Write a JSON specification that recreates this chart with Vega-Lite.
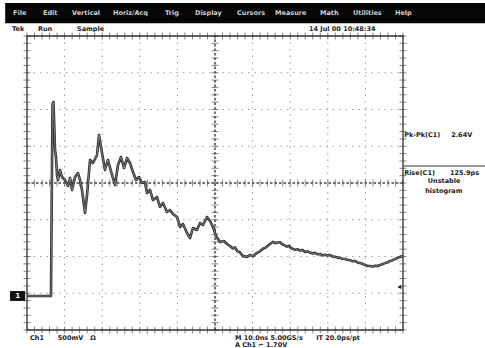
{
  "$schema": "https://vega.github.io/schema/vega-lite/v6.json",
  "width": 376,
  "height": 294,
  "autosize": {"type": "none"},
  "padding": {"left": 27, "top": 36, "right": 82, "bottom": 18},
  "background": "white",
  "config": {"view": {"stroke": null}, "text": {"font": "DejaVu Sans"}},
  "datasets": {
    "menu": [
      {"x": -0.372, "label": "File"}, {"x": 0.426, "label": "Edit"}, {"x": 1.197, "label": "Vertical"},
      {"x": 2.287, "label": "Horiz/Acq"}, {"x": 3.67, "label": "Trig"}, {"x": 4.468, "label": "Display"},
      {"x": 5.585, "label": "Cursors"}, {"x": 6.596, "label": "Measure"}, {"x": 7.793, "label": "Math"},
      {"x": 8.67, "label": "Utilities"}, {"x": 9.787, "label": "Help"}
    ],
    "labels": [
      {"x": -0.4, "y": 4.19, "label": "Tek"}, {"x": 0.29, "y": 4.19, "label": "Run"},
      {"x": 1.33, "y": 4.19, "label": "Sample"}, {"x": 7.5, "y": 4.19, "label": "14 Jul 00 10:48:34"},
      {"x": 0.08, "y": -4.22, "label": "Ch1"}, {"x": 0.82, "y": -4.22, "label": "500mV"},
      {"x": 1.68, "y": -4.22, "label": "Ω"}, {"x": 5.53, "y": -4.22, "label": "M 10.0ns 5.00GS/s"},
      {"x": 7.69, "y": -4.22, "label": "IT 20.0ps/pt"}, {"x": 5.53, "y": -4.41, "label": "A  Ch1 ⌐ 1.70V"},
      {"x": 10.03, "y": 1.31, "label": "Pk-Pk(C1)"}, {"x": 11.28, "y": 1.31, "label": "2.64V"},
      {"x": 10.03, "y": 0.27, "label": "Rise(C1)"}, {"x": 11.25, "y": 0.27, "label": "125.9ps"},
      {"x": 10.66, "y": 0.05, "label": "Unstable"}, {"x": 10.59, "y": -0.22, "label": "histogram"}
    ],
    "gx": [{"x": 1}, {"x": 2}, {"x": 3}, {"x": 4}, {"x": 6}, {"x": 7}, {"x": 8}, {"x": 9}],
    "gy": [{"y": -3}, {"y": -2}, {"y": -1}, {"y": 1}, {"y": 2}, {"y": 3}],
    "xt": [
      {"x": 0}, {"x": 0.2}, {"x": 0.4}, {"x": 0.6}, {"x": 0.8}, {"x": 1}, {"x": 1.2}, {"x": 1.4}, {"x": 1.6}, {"x": 1.8},
      {"x": 2}, {"x": 2.2}, {"x": 2.4}, {"x": 2.6}, {"x": 2.8}, {"x": 3}, {"x": 3.2}, {"x": 3.4}, {"x": 3.6}, {"x": 3.8},
      {"x": 4}, {"x": 4.2}, {"x": 4.4}, {"x": 4.6}, {"x": 4.8}, {"x": 5}, {"x": 5.2}, {"x": 5.4}, {"x": 5.6}, {"x": 5.8},
      {"x": 6}, {"x": 6.2}, {"x": 6.4}, {"x": 6.6}, {"x": 6.8}, {"x": 7}, {"x": 7.2}, {"x": 7.4}, {"x": 7.6}, {"x": 7.8},
      {"x": 8}, {"x": 8.2}, {"x": 8.4}, {"x": 8.6}, {"x": 8.8}, {"x": 9}, {"x": 9.2}, {"x": 9.4}, {"x": 9.6}, {"x": 9.8}, {"x": 10}
    ],
    "yt": [
      {"y": -4}, {"y": -3.8}, {"y": -3.6}, {"y": -3.4}, {"y": -3.2}, {"y": -3}, {"y": -2.8}, {"y": -2.6}, {"y": -2.4}, {"y": -2.2},
      {"y": -2}, {"y": -1.8}, {"y": -1.6}, {"y": -1.4}, {"y": -1.2}, {"y": -1}, {"y": -0.8}, {"y": -0.6}, {"y": -0.4}, {"y": -0.2},
      {"y": 0}, {"y": 0.2}, {"y": 0.4}, {"y": 0.6}, {"y": 0.8}, {"y": 1}, {"y": 1.2}, {"y": 1.4}, {"y": 1.6}, {"y": 1.8},
      {"y": 2}, {"y": 2.2}, {"y": 2.4}, {"y": 2.6}, {"y": 2.8}, {"y": 3}, {"y": 3.2}, {"y": 3.4}, {"y": 3.6}, {"y": 3.8}, {"y": 4}
    ],
    "wave": [
      {"x": 0, "y": -3.075}, {"x": 0.612, "y": -3.075}, {"x": 0.638, "y": -3.075}, {"x": 0.678, "y": 2.15},
      {"x": 0.705, "y": 2.204}, {"x": 0.745, "y": 0.898}, {"x": 0.771, "y": 0.707}, {"x": 0.798, "y": 0.218},
      {"x": 0.824, "y": 0.082}, {"x": 0.878, "y": 0.354}, {"x": 0.931, "y": 0.163}, {"x": 1.011, "y": 0.082},
      {"x": 1.09, "y": -0.082}, {"x": 1.144, "y": 0.136}, {"x": 1.197, "y": -0.19}, {"x": 1.277, "y": 0.163},
      {"x": 1.356, "y": 0.272}, {"x": 1.41, "y": 0.082}, {"x": 1.463, "y": -0.19}, {"x": 1.543, "y": -0.816},
      {"x": 1.596, "y": -0.327}, {"x": 1.676, "y": 0.626}, {"x": 1.755, "y": 0.544}, {"x": 1.862, "y": 0.762},
      {"x": 1.915, "y": 1.306}, {"x": 1.995, "y": 0.816}, {"x": 2.074, "y": 0.354}, {"x": 2.154, "y": 0.626},
      {"x": 2.261, "y": 0.218}, {"x": 2.34, "y": -0.054}, {"x": 2.42, "y": 0.49}, {"x": 2.5, "y": 0.707},
      {"x": 2.58, "y": 0.408}, {"x": 2.66, "y": 0.68}, {"x": 2.739, "y": 0.544}, {"x": 2.819, "y": 0.299},
      {"x": 2.899, "y": 0.082}, {"x": 2.979, "y": 0.163}, {"x": 3.059, "y": 0}, {"x": 3.138, "y": 0.027},
      {"x": 3.191, "y": -0.272}, {"x": 3.271, "y": -0.19}, {"x": 3.351, "y": -0.463}, {"x": 3.457, "y": -0.381},
      {"x": 3.537, "y": -0.653}, {"x": 3.617, "y": -0.544}, {"x": 3.723, "y": -0.789}, {"x": 3.803, "y": -0.735},
      {"x": 3.883, "y": -0.844}, {"x": 3.989, "y": -0.925}, {"x": 4.069, "y": -1.197}, {"x": 4.149, "y": -1.116},
      {"x": 4.255, "y": -1.361}, {"x": 4.335, "y": -1.497}, {"x": 4.415, "y": -1.224}, {"x": 4.521, "y": -1.279},
      {"x": 4.601, "y": -1.088}, {"x": 4.681, "y": -1.143}, {"x": 4.787, "y": -0.925}, {"x": 4.867, "y": -1.034},
      {"x": 4.947, "y": -1.197}, {"x": 5.027, "y": -1.442}, {"x": 5.133, "y": -1.605}, {"x": 5.239, "y": -1.578},
      {"x": 5.319, "y": -1.66}, {"x": 5.399, "y": -1.714}, {"x": 5.479, "y": -1.78}, {"x": 5.532, "y": -1.75},
      {"x": 5.585, "y": -1.85}, {"x": 5.665, "y": -1.89}, {"x": 5.745, "y": -1.99}, {"x": 5.851, "y": -2.01},
      {"x": 5.931, "y": -1.96}, {"x": 6.011, "y": -1.99}, {"x": 6.117, "y": -1.9}, {"x": 6.197, "y": -1.86},
      {"x": 6.277, "y": -1.79}, {"x": 6.356, "y": -1.75}, {"x": 6.463, "y": -1.66}, {"x": 6.543, "y": -1.6},
      {"x": 6.6, "y": -1.64}, {"x": 6.649, "y": -1.62}, {"x": 6.729, "y": -1.61}, {"x": 6.78, "y": -1.66},
      {"x": 6.835, "y": -1.69}, {"x": 6.915, "y": -1.73}, {"x": 6.97, "y": -1.71}, {"x": 7.021, "y": -1.77},
      {"x": 7.128, "y": -1.82}, {"x": 7.19, "y": -1.8}, {"x": 7.261, "y": -1.84}, {"x": 7.33, "y": -1.82},
      {"x": 7.394, "y": -1.88}, {"x": 7.46, "y": -1.86}, {"x": 7.527, "y": -1.89}, {"x": 7.6, "y": -1.92},
      {"x": 7.66, "y": -1.9}, {"x": 7.73, "y": -1.94}, {"x": 7.793, "y": -1.93}, {"x": 7.86, "y": -1.97},
      {"x": 7.926, "y": -1.95}, {"x": 8.0, "y": -1.97}, {"x": 8.059, "y": -1.96}, {"x": 8.13, "y": -2.0},
      {"x": 8.191, "y": -2.01}, {"x": 8.26, "y": -2.03}, {"x": 8.324, "y": -2.04}, {"x": 8.39, "y": -2.06},
      {"x": 8.457, "y": -2.07}, {"x": 8.52, "y": -2.09}, {"x": 8.59, "y": -2.1}, {"x": 8.66, "y": -2.13},
      {"x": 8.723, "y": -2.12}, {"x": 8.79, "y": -2.16}, {"x": 8.856, "y": -2.18}, {"x": 8.92, "y": -2.2},
      {"x": 8.989, "y": -2.23}, {"x": 9.06, "y": -2.26}, {"x": 9.122, "y": -2.26}, {"x": 9.19, "y": -2.27},
      {"x": 9.255, "y": -2.25}, {"x": 9.32, "y": -2.26}, {"x": 9.388, "y": -2.23}, {"x": 9.45, "y": -2.21},
      {"x": 9.521, "y": -2.18}, {"x": 9.59, "y": -2.16}, {"x": 9.654, "y": -2.12}, {"x": 9.72, "y": -2.1},
      {"x": 9.787, "y": -2.07}, {"x": 9.85, "y": -2.04}, {"x": 9.92, "y": -2.01}, {"x": 10.0, "y": -1.99}
    ]
  },
  "layer": [
    {
      "data": {"values": [{}]},
      "mark": {"type": "rect", "color": "#050505"},
      "encoding": {
        "x": {"datum": -0.58, "type": "quantitative", "scale": {"domain": [0, 10], "nice": false, "zero": false}, "axis": null},
        "x2": {"datum": 12.2},
        "y": {"datum": 4.35, "type": "quantitative", "scale": {"domain": [-4, 4], "nice": false, "zero": false}, "axis": null},
        "y2": {"datum": 4.9}
      }
    },
    {
      "data": {"name": "menu"},
      "mark": {"type": "text", "align": "left", "baseline": "middle", "fontSize": 6.5, "fontWeight": "bold", "color": "#cfcfcf"},
      "encoding": {
        "x": {"field": "x", "type": "quantitative", "scale": {"domain": [0, 10], "nice": false, "zero": false}, "axis": null},
        "y": {"datum": 4.626, "type": "quantitative", "scale": {"domain": [-4, 4], "nice": false, "zero": false}, "axis": null},
        "text": {"field": "label"}
      }
    },
    {
      "data": {"name": "gx"},
      "mark": {"type": "rule", "color": "#9a9a9a", "strokeWidth": 1, "strokeDash": [1.5, 5]},
      "encoding": {
        "x": {"field": "x", "type": "quantitative", "scale": {"domain": [0, 10], "nice": false, "zero": false}, "axis": null},
        "y": {"datum": -4, "type": "quantitative", "scale": {"domain": [-4, 4], "nice": false, "zero": false}, "axis": null},
        "y2": {"datum": 4}
      }
    },
    {
      "data": {"name": "gy"},
      "mark": {"type": "rule", "color": "#9a9a9a", "strokeWidth": 1, "strokeDash": [1.5, 5]},
      "encoding": {
        "y": {"field": "y", "type": "quantitative", "scale": {"domain": [-4, 4], "nice": false, "zero": false}, "axis": null},
        "x": {"datum": 0, "type": "quantitative", "scale": {"domain": [0, 10], "nice": false, "zero": false}, "axis": null},
        "x2": {"datum": 10}
      }
    },
    {
      "data": {"values": [{}]},
      "mark": {"type": "rule", "color": "#444", "strokeWidth": 1.5, "strokeDash": [2.5, 2]},
      "encoding": {
        "x": {"datum": 5, "type": "quantitative", "scale": {"domain": [0, 10], "nice": false, "zero": false}, "axis": null},
        "y": {"datum": -4, "type": "quantitative", "scale": {"domain": [-4, 4], "nice": false, "zero": false}, "axis": null},
        "y2": {"datum": 4}
      }
    },
    {
      "data": {"values": [{}]},
      "mark": {"type": "rule", "color": "#444", "strokeWidth": 1.5, "strokeDash": [2.5, 2]},
      "encoding": {
        "y": {"datum": 0, "type": "quantitative", "scale": {"domain": [-4, 4], "nice": false, "zero": false}, "axis": null},
        "x": {"datum": 0, "type": "quantitative", "scale": {"domain": [0, 10], "nice": false, "zero": false}, "axis": null},
        "x2": {"datum": 10}
      }
    },
    {
      "data": {"name": "xt"},
      "mark": {"type": "tick", "orient": "vertical", "size": 7, "thickness": 1, "color": "#555"},
      "encoding": {
        "x": {"field": "x", "type": "quantitative", "scale": {"domain": [0, 10], "nice": false, "zero": false}, "axis": null},
        "y": {"datum": 0, "type": "quantitative", "scale": {"domain": [-4, 4], "nice": false, "zero": false}, "axis": null}
      }
    },
    {
      "data": {"name": "xt"},
      "mark": {"type": "tick", "orient": "vertical", "size": 7, "thickness": 1, "color": "#555"},
      "encoding": {
        "x": {"field": "x", "type": "quantitative", "scale": {"domain": [0, 10], "nice": false, "zero": false}, "axis": null},
        "y": {"datum": -4, "type": "quantitative", "scale": {"domain": [-4, 4], "nice": false, "zero": false}, "axis": null}
      }
    },
    {
      "data": {"name": "xt"},
      "mark": {"type": "tick", "orient": "vertical", "size": 7, "thickness": 1, "color": "#555"},
      "encoding": {
        "x": {"field": "x", "type": "quantitative", "scale": {"domain": [0, 10], "nice": false, "zero": false}, "axis": null},
        "y": {"datum": 4, "type": "quantitative", "scale": {"domain": [-4, 4], "nice": false, "zero": false}, "axis": null}
      }
    },
    {
      "data": {"name": "yt"},
      "mark": {"type": "tick", "orient": "horizontal", "size": 7, "thickness": 1, "color": "#555"},
      "encoding": {
        "y": {"field": "y", "type": "quantitative", "scale": {"domain": [-4, 4], "nice": false, "zero": false}, "axis": null},
        "x": {"datum": 5, "type": "quantitative", "scale": {"domain": [0, 10], "nice": false, "zero": false}, "axis": null}
      }
    },
    {
      "data": {"name": "yt"},
      "mark": {"type": "tick", "orient": "horizontal", "size": 7, "thickness": 1, "color": "#555"},
      "encoding": {
        "y": {"field": "y", "type": "quantitative", "scale": {"domain": [-4, 4], "nice": false, "zero": false}, "axis": null},
        "x": {"datum": 0, "type": "quantitative", "scale": {"domain": [0, 10], "nice": false, "zero": false}, "axis": null}
      }
    },
    {
      "data": {"name": "yt"},
      "mark": {"type": "tick", "orient": "horizontal", "size": 7, "thickness": 1, "color": "#555"},
      "encoding": {
        "y": {"field": "y", "type": "quantitative", "scale": {"domain": [-4, 4], "nice": false, "zero": false}, "axis": null},
        "x": {"datum": 10, "type": "quantitative", "scale": {"domain": [0, 10], "nice": false, "zero": false}, "axis": null}
      }
    },
    {
      "data": {"values": [{}]},
      "mark": {"type": "rect", "fillOpacity": 0, "stroke": "#333", "strokeWidth": 1.3},
      "encoding": {
        "x": {"datum": 0, "type": "quantitative", "scale": {"domain": [0, 10], "nice": false, "zero": false}, "axis": null},
        "x2": {"datum": 10},
        "y": {"datum": -4, "type": "quantitative", "scale": {"domain": [-4, 4], "nice": false, "zero": false}, "axis": null},
        "y2": {"datum": 4}
      }
    },
    {
      "data": {"name": "wave"},
      "mark": {"type": "line", "color": "#2e2e2e", "strokeWidth": 2.6, "strokeJoin": "round"},
      "encoding": {
        "x": {"field": "x", "type": "quantitative", "scale": {"domain": [0, 10], "nice": false, "zero": false}, "axis": null},
        "y": {"field": "y", "type": "quantitative", "scale": {"domain": [-4, 4], "nice": false, "zero": false}, "axis": null}
      }
    },
    {
      "data": {"name": "wave"},
      "mark": {"type": "line", "color": "#8a8a8a", "strokeWidth": 0.8, "strokeJoin": "round"},
      "encoding": {
        "x": {"field": "x", "type": "quantitative", "scale": {"domain": [0, 10], "nice": false, "zero": false}, "axis": null},
        "y": {"field": "y", "type": "quantitative", "scale": {"domain": [-4, 4], "nice": false, "zero": false}, "axis": null}
      }
    },
    {
      "data": {"values": [{}]},
      "mark": {"type": "rect", "color": "#111"},
      "encoding": {
        "x": {"datum": -0.45, "type": "quantitative", "scale": {"domain": [0, 10], "nice": false, "zero": false}, "axis": null},
        "x2": {"datum": -0.05},
        "y": {"datum": -2.94, "type": "quantitative", "scale": {"domain": [-4, 4], "nice": false, "zero": false}, "axis": null},
        "y2": {"datum": -3.21}
      }
    },
    {
      "data": {"values": [{"x": -0.25, "y": -3.075, "label": "1"}]},
      "mark": {"type": "text", "color": "white", "fontSize": 7, "fontWeight": "bold", "baseline": "middle", "align": "center"},
      "encoding": {
        "x": {"field": "x", "type": "quantitative", "scale": {"domain": [0, 10], "nice": false, "zero": false}, "axis": null},
        "y": {"field": "y", "type": "quantitative", "scale": {"domain": [-4, 4], "nice": false, "zero": false}, "axis": null},
        "text": {"field": "label"}
      }
    },
    {
      "data": {"name": "labels"},
      "mark": {"type": "text", "align": "left", "baseline": "middle", "fontSize": 6.5, "fontWeight": "bold", "color": "#222"},
      "encoding": {
        "x": {"field": "x", "type": "quantitative", "scale": {"domain": [0, 10], "nice": false, "zero": false}, "axis": null},
        "y": {"field": "y", "type": "quantitative", "scale": {"domain": [-4, 4], "nice": false, "zero": false}, "axis": null},
        "text": {"field": "label"}
      }
    },
    {
      "data": {"values": [{}]},
      "mark": {"type": "rule", "color": "#333", "strokeWidth": 1.2},
      "encoding": {
        "y": {"datum": 0.463, "type": "quantitative", "scale": {"domain": [-4, 4], "nice": false, "zero": false}, "axis": null},
        "x": {"datum": 10, "type": "quantitative", "scale": {"domain": [0, 10], "nice": false, "zero": false}, "axis": null},
        "x2": {"datum": 12.2}
      }
    },
    {
      "data": {"values": [{"x": 9.9, "y": -2.83, "label": "◂"}]},
      "mark": {"type": "text", "color": "#222", "fontSize": 8, "baseline": "middle", "align": "center"},
      "encoding": {
        "x": {"field": "x", "type": "quantitative", "scale": {"domain": [0, 10], "nice": false, "zero": false}, "axis": null},
        "y": {"field": "y", "type": "quantitative", "scale": {"domain": [-4, 4], "nice": false, "zero": false}, "axis": null},
        "text": {"field": "label"}
      }
    }
  ]
}
